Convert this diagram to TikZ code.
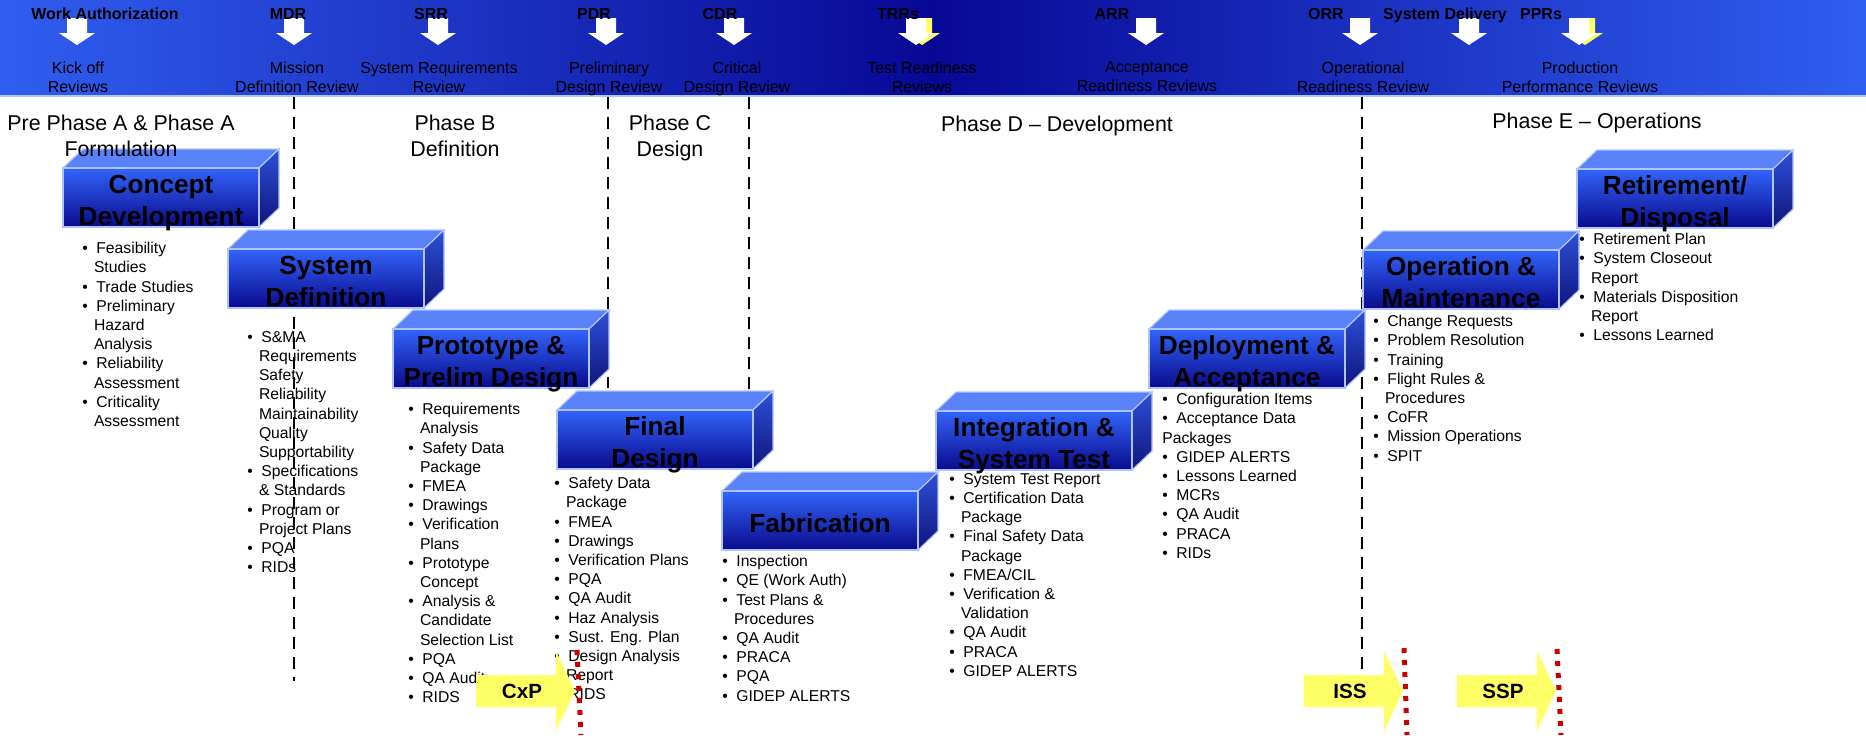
\documentclass[tikz,border=0pt]{standalone}
\usepackage{fontspec}
\setmainfont{Liberation Sans}
\usepackage{tikz}

\definecolor{bandedge}{RGB}{48,94,240}
\definecolor{bandmid}{RGB}{8,8,150}
\definecolor{frtop}{RGB}{50,100,250}
\definecolor{frbot}{RGB}{10,10,140}
\definecolor{lid}{RGB}{90,130,248}
\definecolor{sidetop}{RGB}{45,80,215}
\definecolor{sidebot}{RGB}{15,20,125}
\definecolor{rim}{RGB}{175,195,255}
\definecolor{hilite}{RGB}{255,255,102}
\definecolor{cutred}{RGB}{204,0,0}

\newcommand{\lbul}{\makebox[7pt][l]{\textbullet}}
\newcommand{\lhang}{\hspace*{5.8pt}}

% 3D stage block: name, left x, top y, title
\newcommand{\stage}[4]{%
  \fill[lid, draw=rim, line width=0.6pt] (#2,#3) -- ++(20,-19) -- ++(196,0) -- ++(-20,19) -- cycle;
  \shade[top color=sidetop, bottom color=sidebot, draw=rim, line width=0.6pt]
    (#2+196,#3) -- ++(20,-19) -- ++(0,59) -- ++(-20,19) -- cycle;
  \node[blk, anchor=north west] (#1) at (#2,#3) {\rule{0pt}{12pt}#4};
}
% review arrow in the band
\newcommand{\rvarrow}[2][white]{%
  \fill[#1] (#2-10,18) -- (#2+10,18) -- (#2+10,33) -- (#2+18,33) -- (#2,45)
    -- (#2-18,33) -- (#2-10,33) -- cycle;
}
% yellow program arrow
\newcommand{\prgarrow}[1]{%
  \fill[hilite] (#1,675) -- (#1+80,675) -- (#1+80,651) -- (#1+99,691)
    -- (#1+80,731) -- (#1+80,707) -- (#1,707) -- cycle;
}

\begin{document}
\begin{tikzpicture}[x=0.5pt, y=-0.5pt,
  blk/.style={rectangle, inner sep=0pt, outer sep=0pt, minimum width=98pt, minimum height=29.5pt,
    top color=frtop, bottom color=frbot, draw=rim, line width=0.6pt,
    align=center, text depth=0pt, font=\fontsize{13.1}{16}\selectfont\bfseries},
  lst/.style={anchor=north west, inner sep=0pt, align=left, font=\fontsize{7.85}{9.6}\selectfont},
  code/.style={anchor=base, inner sep=0pt, font=\fontsize{8}{9.5}\selectfont\bfseries},
  rvw/.style={anchor=north, inner sep=0pt, align=center, font=\fontsize{8}{9.5}\selectfont},
  phasehd/.style={anchor=north, inner sep=0pt, align=center, font=\fontsize{10.7}{13}\selectfont},
  prg/.style={inner sep=0pt, font=\fontsize{10.3}{12}\selectfont\bfseries},
  gate/.style={dash pattern=on 6pt off 4pt, line width=0.8pt},
  cutline/.style={cutred, line width=2.5pt, dash pattern=on 2.5pt off 3.5pt}]
  \useasboundingbox (0,0) rectangle (1866,735);

  % review band
  \shade[left color=bandedge, right color=bandedge, middle color=bandmid] (0,0) rectangle (1866,96);
  \draw[rim, line width=1pt] (0,96) -- (1866,96);
  \rvarrow[hilite]{922}
  \rvarrow[hilite]{1585}
  \foreach \ax in {77,294,438,606,734,916,1146,1360,1469,1579} {\rvarrow{\ax}}

  \node[code] (wa) at (105,19) {Work Authorization};
  \node[code] (mdr) at (288,19) {MDR};
  \node[code] (srr) at (431,19) {SRR};
  \node[code] (pdr) at (594,19) {PDR};
  \node[code] (cdr) at (720,19) {CDR};
  \node[code] (trr) at (898,19) {TRRs};
  \node[code] (arr) at (1112,19) {ARR};
  \node[code] (orr) at (1326,19) {ORR};
  \node[code] (sdv) at (1445,19) {System Delivery};
  \node[code] (ppr) at (1541,19) {PPRs};

  \node[rvw] (kor) at (78,61) {Kick off\\Reviews};
  \node[rvw] (mdrn) at (297,61) {Mission\\Definition Review};
  \node[rvw] (srrn) at (439,61) {System Requirements\\Review};
  \node[rvw] (pdrn) at (609,61) {Preliminary\\Design Review};
  \node[rvw] (cdrn) at (737,61) {Critical\\Design Review};
  \node[rvw] (trrn) at (922,61) {Test Readiness\\Reviews};
  \node[rvw] (arrn) at (1147,61) {Acceptance\\Readiness Reviews};
  \node[rvw] (orrn) at (1363,61) {Operational\\Readiness Review};
  \node[rvw] (pprn) at (1580,61) {Production\\Performance Reviews};

  % phase dividers
  \draw[gate] (294,97) -- (294,681);
  \draw[gate] (608,97) -- (608,388);
  \draw[gate] (749,97) -- (749,390);
  \draw[gate] (1362,97) -- (1362,680);

  % stages
  \stage{cdev}{63}{168}{Concept\\Development}
  \stage{sdef}{228}{249}{System\\Definition}
  \stage{ppd}{393}{329}{Prototype \&\\Prelim Design}
  \stage{fdes}{557}{410}{Final\\Design}
  \stage{fab}{722}{491}{Fabrication}
  \stage{ist}{936}{411}{Integration \&\\System Test}
  \stage{dacc}{1149}{329}{Deployment \&\\Acceptance}
  \stage{opm}{1363}{250}{Operation \&\\Maintenance}
  \stage{ret}{1577}{169}{Retirement/\\Disposal}

  \node[phasehd] (pha) at (121,115) {Pre Phase A \& Phase A\\Formulation};
  \node[phasehd] (phb) at (455,115) {Phase B\\Definition};
  \node[phasehd] (phc) at (670,115) {Phase C\\Design};
  \node[phasehd] (phd) at (1057,116) {Phase D – Development};
  \node[phasehd] (phe) at (1597,113) {Phase E – Operations};

  % products of each stage
  \node[lst] (cdl) at (82,242) {\lbul Feasibility\\ \lhang Studies\\ \lbul Trade Studies\\
    \lbul Preliminary\\ \lhang Hazard\\ \lhang Analysis\\ \lbul Reliability\\ \lhang Assessment\\
    \lbul Criticality\\ \lhang Assessment};
  \node[lst] (sdl) at (247,331) {\lbul S\&MA\\ \lhang Requirements\\ \lhang Safety\\ \lhang Reliability\\
    \lhang Maintainability\\ \lhang Quality\\ \lhang Supportability\\ \lbul Specifications\\
    \lhang \& Standards\\ \lbul Program or\\ \lhang Project Plans\\ \lbul PQA\\ \lbul RIDs};
  \node[lst] (ppl) at (408,403) {\lbul Requirements\\ \lhang Analysis\\ \lbul Safety Data\\ \lhang Package\\
    \lbul FMEA\\ \lbul Drawings\\ \lbul Verification\\ \lhang Plans\\ \lbul Prototype\\ \lhang Concept\\
    \lbul Analysis \&\\ \lhang Candidate\\ \lhang Selection List\\ \lbul PQA\\ \lbul QA Audit\\ \lbul RIDS};
  \node[lst] (fdl) at (554,477) {\lbul Safety Data\\ \lhang Package\\ \lbul FMEA\\ \lbul Drawings\\
    \lbul Verification Plans\\ \lbul PQA\\ \lbul QA Audit\\ \lbul Haz Analysis\\ \lbul Sust. Eng. Plan\\
    \lbul Design Analysis\\ \lhang Report\\ \lbul RIDS};
  \node[lst] (fbl) at (722,555) {\lbul Inspection\\ \lbul QE (Work Auth)\\ \lbul Test Plans \&\\
    \lhang Procedures\\ \lbul QA Audit\\ \lbul PRACA\\ \lbul PQA\\ \lbul GIDEP ALERTS};
  \node[lst] (itl) at (949,473) {\lbul System Test Report\\ \lbul Certification Data\\ \lhang Package\\
    \lbul Final Safety Data\\ \lhang Package\\ \lbul FMEA/CIL\\ \lbul Verification \&\\ \lhang Validation\\
    \lbul QA Audit\\ \lbul PRACA\\ \lbul GIDEP ALERTS};
  \node[lst] (dal) at (1162,393) {\lbul Configuration Items\\ \lbul Acceptance Data\\ Packages\\
    \lbul GIDEP ALERTS\\ \lbul Lessons Learned\\ \lbul MCRs\\ \lbul QA Audit\\ \lbul PRACA\\ \lbul RIDs};
  \node[lst] (oml) at (1373,315) {\lbul Change Requests\\ \lbul Problem Resolution\\ \lbul Training\\
    \lbul Flight Rules \&\\ \lhang Procedures\\ \lbul CoFR\\ \lbul Mission Operations\\ \lbul SPIT};
  \node[lst] (rtl) at (1579,233) {\lbul Retirement Plan\\ \lbul System Closeout\\ \lhang Report\\
    \lbul Materials Disposition\\ \lhang Report\\ \lbul Lessons Learned};

  % programs
  \prgarrow{476}
  \prgarrow{1304}
  \prgarrow{1457}
  \node[prg] (cxp) at (522,691) {CxP};
  \node[prg] (iss) at (1350,691) {ISS};
  \node[prg] (ssp) at (1503,691) {SSP};
  \draw[cutline] (577,650) -- (581,735);
  \draw[cutline] (1404,648) -- (1407,735);
  \draw[cutline] (1557,649) -- (1561,735);
\end{tikzpicture}
\end{document}
